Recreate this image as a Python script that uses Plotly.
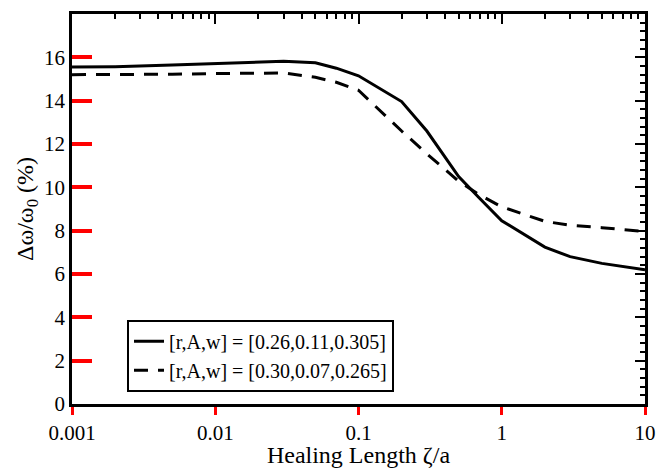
import plotly.graph_objects as go

# Healing length zeta/a
x_solid = [0.001, 0.002, 0.005, 0.01, 0.02, 0.03, 0.05, 0.07, 0.1, 0.2, 0.3, 0.5, 0.7, 1, 2, 3, 5, 10]
y_solid = [15.55, 15.57, 15.65, 15.72, 15.79, 15.82, 15.75, 15.5, 15.15, 13.96, 12.6, 10.5, 9.5, 8.46, 7.24, 6.8, 6.49, 6.19]

x_dash = [0.001, 0.002, 0.005, 0.01, 0.02, 0.03, 0.05, 0.07, 0.1, 0.2, 0.3, 0.5, 0.7, 1, 2, 3, 5, 10]
y_dash = [15.2, 15.2, 15.22, 15.25, 15.28, 15.28, 15.08, 14.85, 14.48, 12.6, 11.55, 10.28, 9.65, 9.1, 8.43, 8.25, 8.14, 7.96]

name_solid = "[r,A,w] = [0.26,0.11,0.305]"
name_dash = "[r,A,w] = [0.30,0.07,0.265]"

x_range_log = [-3, 1]
y_range = [0, 18.001]

FONT = "Liberation Serif"

fig = go.Figure()
fig.add_trace(go.Scatter(x=x_solid, y=y_solid, mode="lines", name=name_solid,
                         line=dict(color="black", width=3)))
fig.add_trace(go.Scatter(x=x_dash, y=y_dash, mode="lines", name=name_dash,
                         line=dict(color="black", width=3, dash="14px,10px")))
fig.add_trace(go.Scatter(x=[x_solid[0]], y=[y_solid[0]], xaxis="x2", yaxis="y2",
                         mode="markers", marker=dict(opacity=0), showlegend=False,
                         hoverinfo="skip"))

line_style = dict(showline=True, linecolor="black", linewidth=2.5,
                  showgrid=False, zeroline=False)
tickfont = dict(family=FONT, size=21, color="black")
titlefont = dict(family=FONT, size=24, color="black")

fig.update_layout(
    width=661, height=460,
    margin=dict(l=64, r=24, t=6, b=53),
    paper_bgcolor="white", plot_bgcolor="white",
    showlegend=True,
    xaxis=dict(type="log", range=x_range_log, tickmode="linear", tick0=0, dtick=1,
               ticks="outside", ticklen=8, tickwidth=3, tickcolor="red",
               tickfont=tickfont,
               title=dict(text="Healing Length ζ/a", font=titlefont, standoff=0),
               **line_style),
    yaxis=dict(range=y_range, tickmode="linear", tick0=0, dtick=2,
               ticks="inside", ticklen=20, tickwidth=4, tickcolor="red",
               tickfont=tickfont,
               title=dict(text="Δω/ω<sub>0</sub> (%)", font=titlefont, standoff=4),
               **line_style),
    xaxis2=dict(type="log", range=x_range_log, tickmode="linear", tick0=0, dtick=1,
                overlaying="x", side="top", showticklabels=False,
                ticks="inside", ticklen=10, tickwidth=2, tickcolor="black",
                minor=dict(ticks="inside", ticklen=5, tickwidth=2, tickcolor="black"),
                **line_style),
    yaxis2=dict(range=y_range, tickmode="linear", tick0=0, dtick=2,
                overlaying="y", side="right", showticklabels=False,
                ticks="inside", ticklen=10, tickwidth=2, tickcolor="black",
                minor=dict(ticks="inside", ticklen=5, tickwidth=2, tickcolor="black", dtick=0.4),
                **line_style),
    legend=dict(x=0.096, y=0.216, xanchor="left", yanchor="top",
                bgcolor="white", bordercolor="black", borderwidth=2,
                font=dict(family=FONT, size=20, color="black"),
                tracegroupgap=0),
)

fig.write_html("out.html")
